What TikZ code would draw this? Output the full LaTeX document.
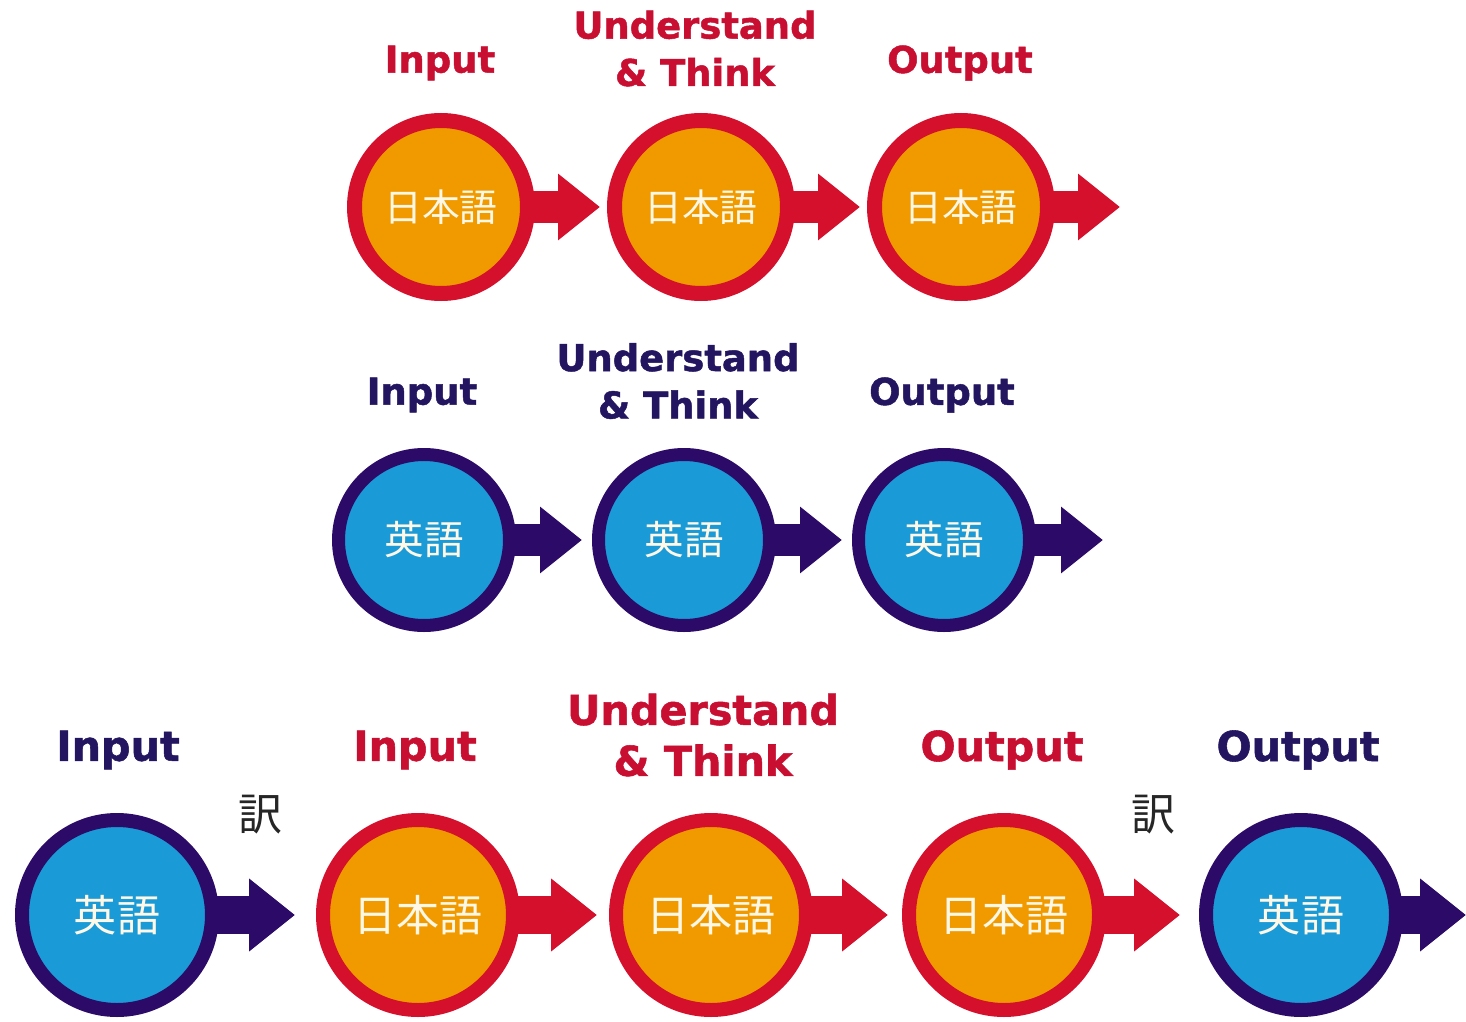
\documentclass[tikz,border=0pt]{standalone}
\usepackage{fontspec}
\setmainfont{DejaVu Sans}
\newfontfamily\jpfont{Noto Sans CJK JP}
\newfontfamily\heavyfont[BoldFeatures={FakeBold=1.3}]{DejaVu Sans}
\usetikzlibrary{arrows.meta}

\definecolor{jorange}{HTML}{F09A00}
\definecolor{jred}{HTML}{D4102C}
\definecolor{eblue}{HTML}{1B9AD8}
\definecolor{enavy}{HTML}{2C0A68}
\definecolor{redtext}{HTML}{C80F32}
\definecolor{navytext}{HTML}{23155F}
\definecolor{ink}{HTML}{FFF8E6}

\tikzset{
	jcircle/.style={circle, draw=jred, fill=jorange, line width=0.3cm, minimum size=3.46cm, inner sep=0pt, text=ink, font=\jpfont\fontsize{21.5}{21.5}\selectfont},
	ecircle/.style={circle, draw=enavy, fill=eblue, line width=0.26cm, minimum size=3.42cm, inner sep=0pt, text=ink, font=\jpfont\fontsize{22.5}{22.5}\selectfont},
	bigcircle/.style={line width=0.28cm, minimum size=3.8cm, font=\jpfont\fontsize{24.5}{24.5}\selectfont},
	jarrow/.style={draw=jred, line width=0.64cm, shorten <=-4pt, -{Triangle[length=0.84cm, width=1.28cm]}},
	earrow/.style={draw=enavy, line width=0.64cm, shorten <=-4pt, -{Triangle[length=0.84cm, width=1.28cm]}},
	bigarrow/.style={line width=0.76cm, -{Triangle[length=0.92cm, width=1.4cm]}},
	redlabel/.style={text=redtext, align=center, font=\heavyfont\bfseries\fontsize{21}{27}\selectfont},
	navylabel/.style={text=navytext, align=center, font=\heavyfont\bfseries\fontsize{21}{27}\selectfont},
	biglabel/.style={font=\heavyfont\bfseries\fontsize{23.5}{29}\selectfont},
	yaku/.style={text=black!85, font=\jpfont\fontsize{25}{25}\selectfont}
}

\begin{document}
\begin{tikzpicture}
	\useasboundingbox (0, 0) rectangle (29.32, -20.44);

	% Japanese only
	\node[jcircle] (1) at (8.82, -4.14) {日本語};
	\node[jcircle] (2) at (14.02, -4.14) {日本語};
	\node[jcircle] (3) at (19.22, -4.14) {日本語};
	\coordinate (t1) at (12.0, -4.14);
	\coordinate (t2) at (17.2, -4.14);
	\coordinate (t3) at (22.4, -4.14);
		\draw[jarrow] (1.east) -- (t1);
		\draw[jarrow] (2.east) -- (t2);
		\draw[jarrow] (3.east) -- (t3);
	\node[redlabel] (l1) at (8.8, -1.26) {Input};
	\node[redlabel] (l2) at (13.9, -0.97) {Understand\\\& Think};
	\node[redlabel] (l3) at (19.2, -1.26) {Output};

	% English only
	\node[ecircle] (4) at (8.48, -10.8) {英語};
	\node[ecircle] (5) at (13.68, -10.8) {英語};
	\node[ecircle] (6) at (18.88, -10.8) {英語};
	\coordinate (t4) at (11.64, -10.8);
	\coordinate (t5) at (16.84, -10.8);
	\coordinate (t6) at (22.06, -10.8);
		\draw[earrow] (4.east) -- (t4);
		\draw[earrow] (5.east) -- (t5);
		\draw[earrow] (6.east) -- (t6);
	\node[navylabel] (l4) at (8.44, -7.9) {Input};
	\node[navylabel] (l5) at (13.56, -7.62) {Understand\\\& Think};
	\node[navylabel] (l6) at (18.84, -7.9) {Output};

	% English through Japanese
	\node[ecircle, bigcircle] (7) at (2.34, -18.3) {英語};
	\node[jcircle, bigcircle] (8) at (8.36, -18.3) {日本語};
	\node[jcircle, bigcircle] (9) at (14.22, -18.3) {日本語};
	\node[jcircle, bigcircle] (10) at (20.08, -18.3) {日本語};
	\node[ecircle, bigcircle] (11) at (26.02, -18.3) {英語};
	\coordinate (t7) at (5.9, -18.3);
	\coordinate (t8) at (11.94, -18.3);
	\coordinate (t9) at (17.76, -18.3);
	\coordinate (t10) at (23.6, -18.3);
	\coordinate (t11) at (29.32, -18.3);
		\draw[earrow, bigarrow] (7.east) -- (t7);
		\draw[jarrow, bigarrow] (8.east) -- (t8);
		\draw[jarrow, bigarrow] (9.east) -- (t9);
		\draw[jarrow, bigarrow] (10.east) -- (t10);
		\draw[earrow, bigarrow] (11.east) -- (t11);
	\node[navylabel, biglabel] (l7) at (2.36, -15.0) {Input};
	\node[redlabel, biglabel] (l8) at (8.3, -15.0) {Input};
	\node[redlabel, biglabel] (l9) at (14.06, -14.7) {Understand\\\& Think};
	\node[redlabel, biglabel] (l10) at (20.04, -15.0) {Output};
	\node[navylabel, biglabel] (l11) at (25.96, -15.0) {Output};
	\node[yaku] (y1) at (5.2, -16.3) {訳};
	\node[yaku] (y2) at (23.06, -16.3) {訳};
\end{tikzpicture}
\end{document}
